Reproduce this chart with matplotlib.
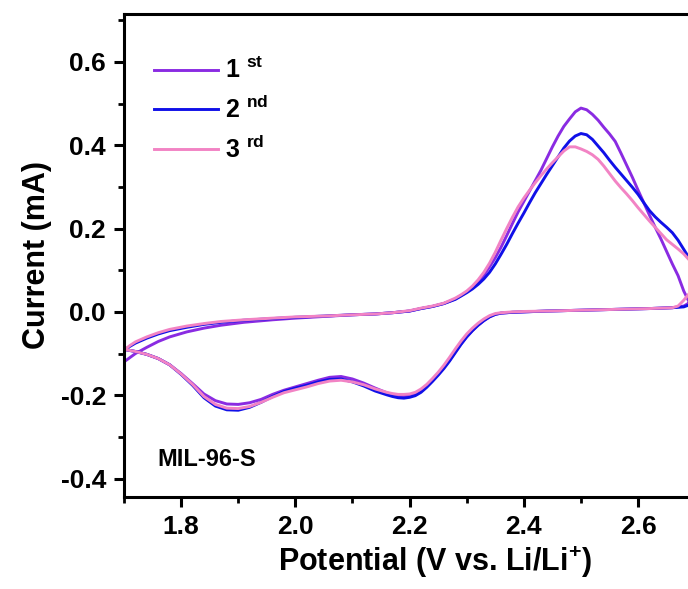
import matplotlib
matplotlib.use("Agg")
import matplotlib.pyplot as plt
from matplotlib.ticker import MultipleLocator

# bold Arial-like look for every label
plt.rcParams['font.family'] = ['Liberation Sans', 'DejaVu Sans']
plt.rcParams['font.weight'] = 'bold'
plt.rcParams['axes.labelweight'] = 'bold'
plt.rcParams['mathtext.fontset'] = 'custom'
plt.rcParams['mathtext.rm'] = 'Liberation Sans:bold'
plt.rcParams['mathtext.bf'] = 'Liberation Sans:bold'

# ---- anodic scan (1.7 V -> upper vertex) ----
fwd_v = [1.70, 1.71, 1.72, 1.74, 1.76, 1.78, 1.81, 1.84, 1.87, 1.91, 1.96, 2.00, 2.05,
         2.10, 2.14, 2.17, 2.20, 2.22, 2.24, 2.26, 2.28,
         2.29, 2.30, 2.31, 2.32, 2.33, 2.34, 2.35, 2.36, 2.37, 2.38,
         2.39, 2.40, 2.41, 2.42, 2.43, 2.44, 2.45, 2.46, 2.47, 2.48,
         2.49, 2.50, 2.51, 2.52, 2.53, 2.54, 2.55, 2.56, 2.57, 2.58,
         2.59, 2.60, 2.61, 2.62, 2.63, 2.64, 2.65, 2.66, 2.67, 2.68,
         2.69, 2.70, 2.71]
fwd_1 = [-0.120, -0.110, -0.100, -0.085, -0.071, -0.060, -0.048, -0.039, -0.032, -0.025,
         -0.019, -0.015, -0.011, -0.007, -0.005, -0.002, 0.002, 0.008, 0.013, 0.020, 0.031,
         0.039, 0.048, 0.058, 0.072, 0.088, 0.108, 0.130, 0.155, 0.183, 0.212,
         0.240, 0.265, 0.290, 0.315, 0.340, 0.368, 0.396, 0.422, 0.445, 0.463,
         0.480, 0.489, 0.485, 0.474, 0.460, 0.443, 0.427, 0.409, 0.381, 0.352,
         0.323, 0.292, 0.262, 0.232, 0.203, 0.175, 0.145, 0.115, 0.087, 0.050,
         0.022, None, None]
fwd_2 = [-0.092, -0.083, -0.075, -0.063, -0.053, -0.045, -0.037, -0.030, -0.025, -0.020,
         -0.016, -0.013, -0.010, -0.007, -0.005, -0.002, 0.002, 0.008, 0.013, 0.020, 0.030,
         0.038, 0.046, 0.055, 0.066, 0.079, 0.095, 0.115, 0.138, 0.162, 0.188,
         0.213, 0.237, 0.262, 0.286, 0.308, 0.330, 0.351, 0.372, 0.393, 0.410,
         0.422, 0.428, 0.425, 0.414, 0.398, 0.382, 0.364, 0.347, 0.331, 0.315,
         0.299, 0.282, 0.262, 0.243, 0.228, 0.215, 0.203, 0.190, 0.172, 0.150,
         0.128, 0.110, 0.095]
fwd_3 = [-0.092, -0.081, -0.072, -0.060, -0.050, -0.042, -0.034, -0.028, -0.023, -0.019,
         -0.015, -0.012, -0.010, -0.007, -0.005, -0.002, 0.003, 0.009, 0.014, 0.021, 0.033,
         0.041, 0.050, 0.062, 0.077, 0.095, 0.117, 0.143, 0.172, 0.200, 0.227,
         0.252, 0.273, 0.292, 0.310, 0.327, 0.343, 0.358, 0.372, 0.386, 0.396,
         0.396, 0.391, 0.385, 0.377, 0.366, 0.350, 0.332, 0.314, 0.298, 0.283,
         0.267, 0.250, 0.234, 0.218, 0.203, 0.188, 0.173, 0.162, 0.151, 0.139,
         0.124, 0.108, 0.095]

# ---- cathodic scan (upper vertex -> 1.7 V) ----
rev_v = [2.71, 2.70, 2.69, 2.68, 2.67, 2.66, 2.62, 2.56, 2.50, 2.44, 2.40, 2.38, 2.36,
         2.35, 2.34, 2.33, 2.32, 2.31, 2.30, 2.29, 2.28, 2.27, 2.26,
         2.25, 2.24, 2.23, 2.22, 2.21, 2.20, 2.19, 2.18, 2.17, 2.16,
         2.14, 2.12, 2.10, 2.08, 2.06, 2.04, 2.02, 2.00, 1.98, 1.96, 1.94, 1.92,
         1.90, 1.88, 1.86, 1.84, 1.82, 1.80, 1.78, 1.76, 1.74, 1.72, 1.70]
rev_1 = [None, None, None, 0.014, 0.012, 0.010, 0.008, 0.006, 0.004, 0.002, 0.000, -0.001, -0.003,
         -0.006, -0.012, -0.021, -0.032, -0.045, -0.060, -0.077, -0.096, -0.116, -0.134,
         -0.150, -0.165, -0.178, -0.189, -0.197, -0.201, -0.203, -0.202, -0.199, -0.194,
         -0.183, -0.171, -0.161, -0.155, -0.157, -0.164, -0.172, -0.180, -0.188, -0.198, -0.210, -0.218,
         -0.222, -0.221, -0.213, -0.197, -0.172, -0.148, -0.127, -0.112, -0.102, -0.095, -0.090]
rev_2 = [0.075, 0.046, 0.017, 0.012, 0.011, 0.010, 0.008, 0.006, 0.004, 0.002, 0.000, -0.001, -0.003,
         -0.006, -0.012, -0.021, -0.032, -0.045, -0.060, -0.078, -0.098, -0.118, -0.136,
         -0.152, -0.167, -0.181, -0.193, -0.201, -0.205, -0.207, -0.206, -0.203, -0.199,
         -0.190, -0.178, -0.168, -0.161, -0.162, -0.168, -0.176, -0.183, -0.191, -0.203, -0.217, -0.229,
         -0.236, -0.235, -0.226, -0.206, -0.176, -0.150, -0.127, -0.112, -0.102, -0.095, -0.090]
rev_3 = [0.085, 0.065, 0.045, 0.028, 0.014, 0.010, 0.008, 0.006, 0.004, 0.002, 0.001, 0.000, -0.002,
         -0.004, -0.009, -0.017, -0.027, -0.039, -0.053, -0.070, -0.089, -0.109, -0.128,
         -0.145, -0.160, -0.174, -0.185, -0.193, -0.197, -0.198, -0.198, -0.196, -0.193,
         -0.185, -0.175, -0.168, -0.164, -0.166, -0.172, -0.180, -0.187, -0.194, -0.205, -0.217, -0.227,
         -0.232, -0.231, -0.222, -0.203, -0.174, -0.149, -0.127, -0.112, -0.102, -0.095, -0.090]

labels = ['1 $^{\\mathbf{st}}$', '2 $^{\\mathbf{nd}}$', '3 $^{\\mathbf{rd}}$']
colors = ['#8a2be2', '#1010e8', '#f283c4']
sample = 'MIL-96-S'


def loop(fv, fi, rv, ri):
    # join both half-scans into one closed CV cycle, skipping unread points
    v, i = [], []
    for a, b in list(zip(fv, fi)) + list(zip(rv, ri)):
        if b is not None:
            v.append(a)
            i.append(b)
    return v, i


cycles = [loop(fwd_v, fwd_1, rev_v, rev_1),
          loop(fwd_v, fwd_2, rev_v, rev_2),
          loop(fwd_v, fwd_3, rev_v, rev_3)]

fig = plt.figure(figsize=(6.88, 5.89), dpi=100)
ax = fig.add_axes([124 / 688, 92.5 / 589, 622.6 / 688, 483 / 589])

for (v, i), c, lab in zip(cycles, colors, labels):
    ax.plot(v, i, color=c, lw=2.1, label=lab, solid_joinstyle='round')

ax.set_xlim(1.7, 2.79)
ax.set_ylim(-0.443, 0.716)
ax.xaxis.set_major_locator(MultipleLocator(0.2))
ax.xaxis.set_minor_locator(MultipleLocator(0.1))
ax.yaxis.set_major_locator(MultipleLocator(0.2))
ax.yaxis.set_minor_locator(MultipleLocator(0.1))
ax.xaxis.set_major_formatter(lambda x, p: f"{x:.1f}")
ax.yaxis.set_major_formatter(lambda y, p: f"{y:.1f}")

for s in ax.spines.values():
    s.set_linewidth(2.2)
ax.spines['right'].set_visible(False)
ax.tick_params(which='major', direction='out', length=7, width=2.2, labelsize=19, pad=6)
ax.tick_params(which='minor', direction='out', length=4, width=2.0)

ax.set_xlabel('Potential (V vs. Li/Li$^{+}$)', fontsize=22, labelpad=4)
ax.set_ylabel('Current (mA)', fontsize=22, labelpad=6)

ax.text(0.053, 0.076, sample, transform=ax.transAxes, fontsize=17, va='center', ha='left')

ax.legend(loc='upper left', bbox_to_anchor=(0.012, 0.955), frameon=False, fontsize=18,
          handlelength=2.55, handletextpad=0.3, labelspacing=0.5)

fig.savefig('out.png', dpi=100)
